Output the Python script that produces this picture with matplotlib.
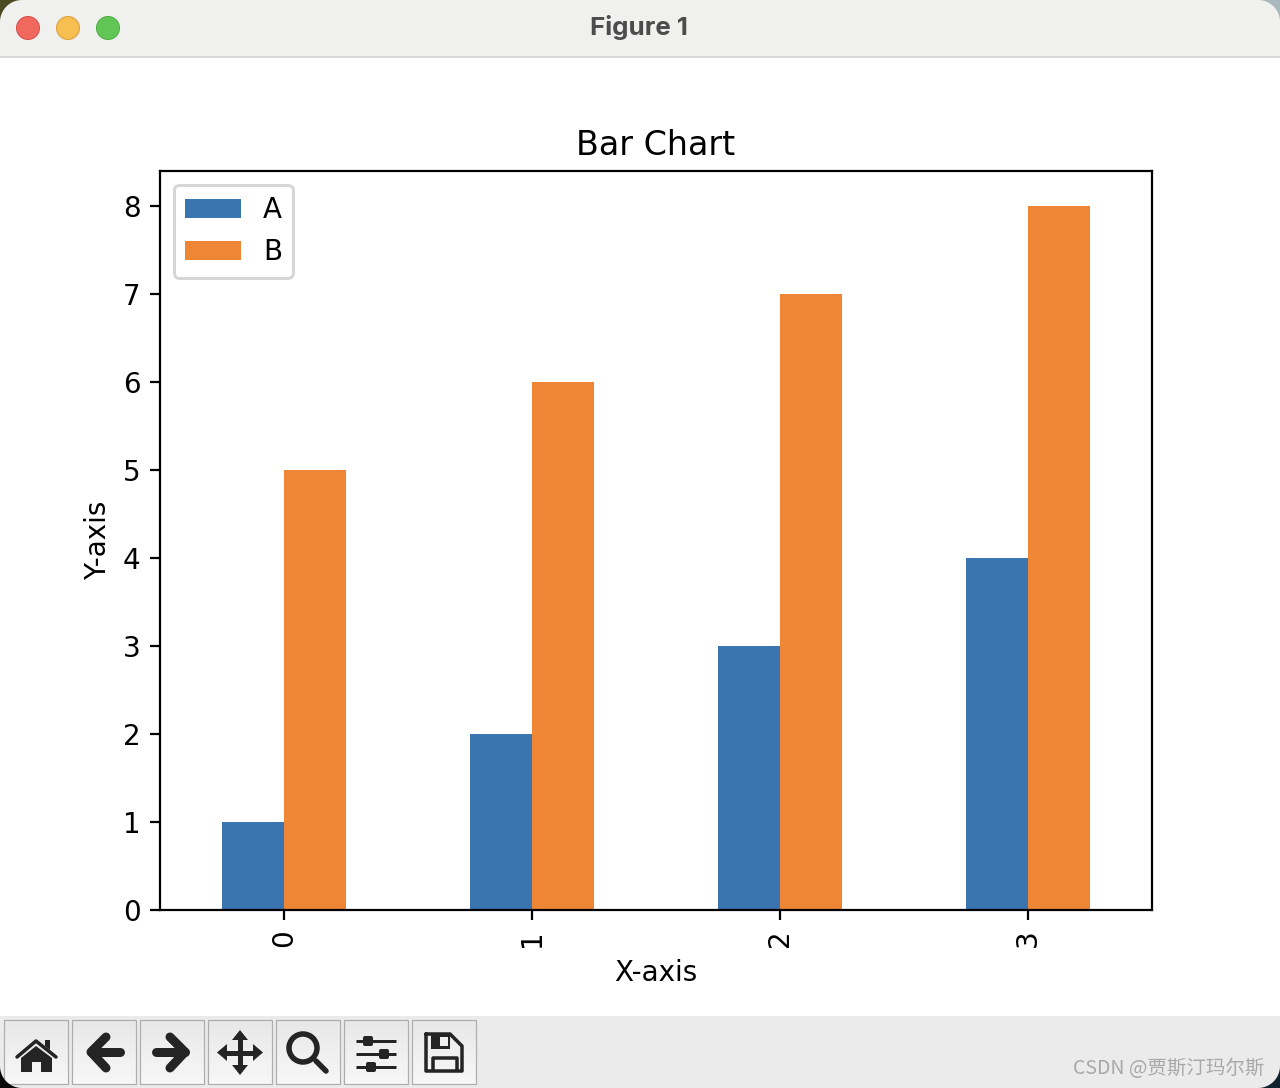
import numpy as np
import matplotlib
matplotlib.use('Agg')
import matplotlib.pyplot as plt
from matplotlib.patches import Circle, FancyBboxPatch, Polygon, Rectangle

categories = [0, 1, 2, 3]
values_a = [1, 2, 3, 4]
values_b = [5, 6, 7, 8]
series_names = ['A', 'B']
y_ticks = [0, 1, 2, 3, 4, 5, 6, 7, 8]

W, H = 1280, 1088
DPI = 200


def px(width):
    # line width given in screen pixels -> points
    return width * 72 / DPI


fig = plt.figure(figsize=(W / DPI, H / DPI), dpi=DPI, facecolor='white')

# the chart itself
ax = fig.add_axes([160 / W, 1 - 910 / H, 992 / W, 739 / H])
x = np.arange(len(categories))
ax.bar(x - 0.125, values_a, 0.25, color='#3b75af', label=series_names[0])
ax.bar(x + 0.125, values_b, 0.25, color='#ef8636', label=series_names[1])
ax.set_xlim(-0.5, 3.5)
ax.set_ylim(0, 8.4)
ax.set_xticks(x)
ax.set_xticklabels(categories, rotation=90)
ax.set_yticks(y_ticks)
ax.set_title('Bar Chart', pad=5.8)
ax.set_xlabel('X-axis', labelpad=4.4)
ax.set_ylabel('Y-axis')
leg = ax.legend(loc='upper left', labelspacing=0.52)
leg.get_frame().set_linewidth(px(3))
fig.canvas.draw()
w_max = max(t.get_window_extent().width for t in leg.get_texts())
for t in leg.get_texts():
    # labels sit flush right in the reference
    t.set_ha('right')
    t.set_position((w_max - t.get_window_extent().width, 0))

# window chrome in pixel coordinates
ui = fig.add_axes([0, 0, 1, 1], zorder=5)
ui.set_xlim(0, W)
ui.set_ylim(H, 0)
ui.axis('off')
ui.patch.set_alpha(0)

ui.add_patch(Rectangle((0, 0), W, 56, fc='#f0f0ee', ec='none'))
ui.plot([0, W], [56.5, 56.5], color='#d6d6d6', lw=px(2))
for cx, fc, ec in [(28, '#f0685e', '#d9524a'), (68, '#f6bf50', '#dca040'), (108, '#61c655', '#4fad45')]:
    ui.add_patch(Circle((cx, 28), 11.5, fc=fc, ec=ec, lw=px(1)))
ui.text(639, 27, 'Figure 1', ha='center', va='center', fontsize=9.35, fontweight='bold',
        family='Inter', color='#4c4c4c')

ui.add_patch(Rectangle((0, 1016), W, H - 1016, fc='#ebebeb', ec='none'))
grad = np.linspace(0.905, 0.965, 32).reshape(-1, 1)
for bx in [4, 72, 140, 208, 276, 344, 412]:
    ui.imshow(grad, extent=(bx, bx + 64, 1084, 1020), cmap='gray', vmin=0, vmax=1,
              aspect='auto', zorder=1)
    ui.add_patch(Rectangle((bx - 0.5, 1019.5), 64, 64, fc='none', ec='#adadad', lw=px(1.2), zorder=2))
ui.set_xlim(0, W)
ui.set_ylim(H, 0)

DARK = '#242424'


def stroke(xs, ys, width, cap='round'):
    ui.plot(xs, ys, color=DARK, lw=px(width), solid_capstyle=cap, solid_joinstyle='round', zorder=3)


def fill(points, color=DARK):
    ui.add_patch(Polygon(points, closed=True, fc=color, ec='none', zorder=3))


# home
stroke([17, 36, 56], [1057, 1041, 1057], 3.5)
fill([(45, 1040), (50, 1040), (50, 1050), (45, 1046)])
fill([(36, 1046), (21, 1058), (21, 1072), (32, 1072), (32, 1062), (41, 1062), (41, 1072),
      (52, 1072), (52, 1058)])
# back / forward
stroke([106, 91, 106], [1037, 1052, 1068], 9)
stroke([91, 120], [1052, 1052], 9)
stroke([170, 185, 170], [1037, 1052, 1068], 9)
stroke([156, 185], [1052, 1052], 9)
# move
stroke([240, 240], [1038, 1067], 5, 'butt')
stroke([225, 255], [1052.5, 1052.5], 5, 'butt')
fill([(240, 1030), (232, 1040), (248, 1040)])
fill([(240, 1075), (232, 1065), (248, 1065)])
fill([(217, 1052.5), (227, 1044), (227, 1061)])
fill([(263, 1052.5), (253, 1044), (253, 1061)])
# zoom
ui.add_patch(Circle((303, 1048), 14, fc='none', ec=DARK, lw=px(5.5), zorder=3))
stroke([316, 326], [1061, 1071], 5.5)
# subplots
for ly, kx in [(1041, 368), (1054, 384), (1067, 371)]:
    stroke([356, 396], [ly, ly], 3, 'butt')
    ui.add_patch(FancyBboxPatch((kx - 3.5, ly - 3.5), 7, 7, boxstyle='round,pad=1.5,rounding_size=2',
                                fc=DARK, ec='none', zorder=3))
# save
stroke([426, 450, 462, 462, 426, 426], [1034, 1034, 1046, 1071, 1071, 1034], 3.5)
stroke([433, 433, 457, 457], [1071, 1058, 1058, 1071], 3.5, 'butt')
fill([(431, 1034), (450, 1034), (450, 1049), (431, 1049)])
fill([(440, 1036.5), (447.5, 1036.5), (447.5, 1046), (440, 1046)], '#eeeeee')

# rounded window corners showing the desktop behind
arc = np.linspace(0, np.pi / 2, 20)
r = 22
for cx, cy, sx, sy, color in [(0, 0, 1, 1, '#4b4b22'), (W, 0, -1, 1, '#a9b8bd'),
                              (0, H, 1, -1, '#0a0a0a'), (W, H, -1, -1, '#10222e')]:
    pts = [(cx, cy)] + [(cx + sx * r * (1 - np.sin(a)), cy + sy * r * (1 - np.cos(a))) for a in arc]
    fill(pts, color)

# watermark
ui.text(1073, 1068, 'CSDN @贾斯汀玛尔斯', ha='left', va='center', fontsize=7.03, color='#a8a8a8',
        family=['Noto Sans CJK SC', 'DejaVu Sans'], zorder=4)

fig.savefig('out.png', dpi=DPI)
